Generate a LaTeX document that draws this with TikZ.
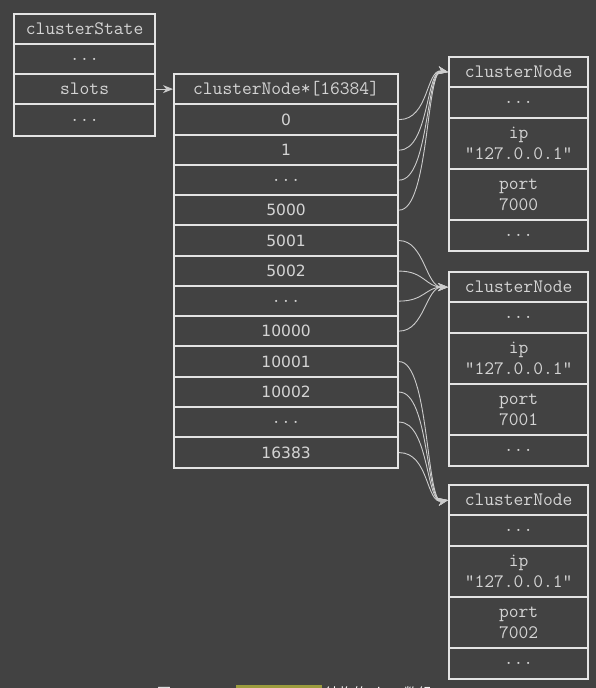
\documentclass[tikz,border=0pt]{standalone}
\usepackage{fontspec}
\newfontfamily\numfont{DejaVu Sans}
\newfontfamily\cjk{Noto Sans CJK SC}
\usetikzlibrary{arrows.meta}
\definecolor{bg}{HTML}{424242}
\definecolor{ln}{HTML}{E4E4E4}
\definecolor{tx}{HTML}{D4D4D4}
\definecolor{hl}{HTML}{9C9C3E}
\begin{document}
\begin{tikzpicture}[x=1pt,y=-1pt,
  cell/.style={draw=ln, line width=2.2pt, anchor=north west, inner sep=0pt, text=tx,
    font=\ttfamily\fontsize{19}{21}\selectfont, align=center},
  cs/.style={cell, minimum width=141pt, minimum height=30pt},
  arr/.style={cell, minimum width=224pt, minimum height=30pt},
  cn/.style={cell, minimum width=139pt},
  num/.style={font=\numfont\fontsize{15.5}{18}\selectfont},
  conn/.style={draw=ln!85!bg, line width=0.9pt, -{Stealth[length=10pt,width=8pt]}}
]
\useasboundingbox (0,0) rectangle (596,688);
\fill[bg] (0,0) rectangle (596,688);

% clusterState
\node[cs] (st0) at (13,13) {clusterState};
\node[cs] (st1) at (13,43) {...};
\node[cs] (st2) at (13,73) {slots};
\node[cs, minimum height=32pt] (st3) at (13,103) {...};

% slots array
\node[arr] (a0)  at (173,73) {clusterNode*[16384]};
\node[arr,num,minimum height=31pt] (a1)  at (173,103) {0};
\node[arr,num] (a2)  at (173,134) {1};
\node[arr] (a3)  at (173,164) {...};
\node[arr,num] (a4)  at (173,194) {5000};
\node[arr,num,minimum height=31pt] (a5)  at (173,224) {5001};
\node[arr,num] (a6)  at (173,255) {5002};
\node[arr] (a7)  at (173,285) {...};
\node[arr,num] (a8)  at (173,315) {10000};
\node[arr,num,minimum height=31pt] (a9)  at (173,345) {10001};
\node[arr,num] (a10) at (173,376) {10002};
\node[arr] (a11) at (173,406) {...};
\node[arr,num,minimum height=31pt] (a12) at (173,436) {16383};

% clusterNode boxes
\foreach \k/\T/\p in {1/56/7000, 2/271/7001, 3/484/7002}{
  \node[cn, minimum height=30pt] (n\k h) at (448,\T) {clusterNode};
  \node[cn, minimum height=31pt] (n\k d) at (448,\T+30) {...};
  \node[cn, minimum height=51pt] (n\k i) at (448,\T+61) {ip\\"127.0.0.1"};
  \node[cn, minimum height=51pt] (n\k p) at (448,\T+112) {port\\\p};
  \node[cn, minimum height=31pt] (n\k e) at (448,\T+163) {...};
}

% connectors
\draw[conn] (st2.east) -- (a0.west);
\foreach \r in {1,2,3,4}{
  \draw[conn] (a\r.east) .. controls +(30,0) and +(-22,-4) .. (n1h.west);
}
\foreach \r in {5,6,7,8}{
  \draw[conn] (a\r.east) .. controls +(25,0) and +(-22,0) .. (n2h.west);
}
\foreach \r in {9,10,11,12}{
  \draw[conn] (a\r.east) .. controls +(30,0) and +(-22,4) .. (n3h.west);
}

% caption (cut off by the picture's lower edge, as in the reference)
\begin{scope}
\clip (0,0) rectangle (596,688);
\fill[hl] (236,685.3) rectangle (322,705);
\node[anchor=base west, inner sep=0pt, text=white, font=\cjk\fontsize{14}{16}\selectfont] (cap1) at (157,698) {图};
\node[anchor=base west, inner sep=0pt, text=white, font=\cjk\fontsize{14}{16}\selectfont] (cap2) at (325,698) {结构的 slots 数组};
\end{scope}
\end{tikzpicture}
\end{document}
